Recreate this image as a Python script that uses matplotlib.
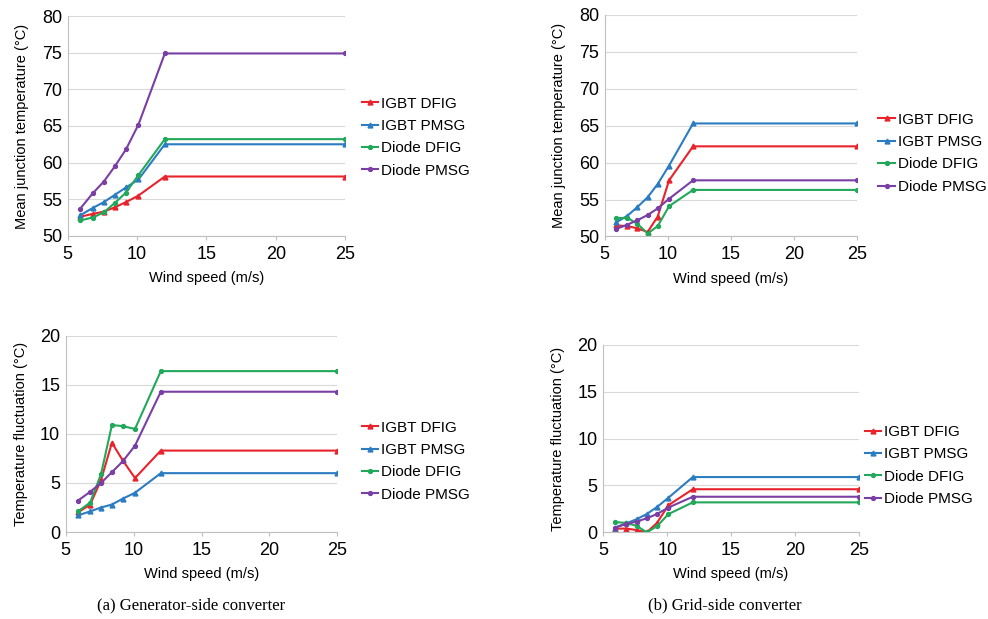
import numpy as np
import matplotlib
matplotlib.use('Agg')
import matplotlib.pyplot as plt

plt.rcParams['font.family'] = ['Liberation Sans', 'DejaVu Sans']

## data
wind = [5.9, 6.8, 7.6, 8.4, 9.2, 10.1, 12, 25]
series_names = ['IGBT DFIG', 'IGBT PMSG', 'Diode DFIG', 'Diode PMSG']

# (a) generator-side, mean junction temperature
gen_mean_igbt_dfig = [52.6, 53.0, 53.3, 53.9, 54.6, 55.5, 58.1, 58.1]
gen_mean_igbt_pmsg = [52.8, 53.8, 54.6, 55.6, 56.6, 57.7, 62.5, 62.5]
gen_mean_diode_dfig = [52.1, 52.5, 53.2, 54.5, 55.9, 58.3, 63.2, 63.2]
gen_mean_diode_pmsg = [53.7, 55.8, 57.4, 59.5, 61.8, 65.2, 74.9, 74.9]

# (b) grid-side, mean junction temperature
grid_mean_igbt_dfig = [51.5, 51.4, 51.1, 50.6, 52.7, 57.6, 62.2, 62.2]
grid_mean_igbt_pmsg = [51.9, 52.8, 54.0, 55.3, 57.1, 59.6, 65.3, 65.3]
grid_mean_diode_dfig = [52.5, 52.5, 51.7, 50.4, 51.4, 54.1, 56.3, 56.3]
grid_mean_diode_pmsg = [51.0, 51.6, 52.2, 52.9, 53.8, 55.1, 57.6, 57.6]

# (a) generator-side, temperature fluctuation
gen_fluc_igbt_dfig = [2.0, 2.8, 5.3, 9.1, 7.3, 5.5, 8.3, 8.3]
gen_fluc_igbt_pmsg = [1.7, 2.1, 2.5, 2.8, 3.4, 4.0, 6.0, 6.0]
gen_fluc_diode_dfig = [2.1, 3.0, 5.9, 10.9, 10.8, 10.5, 16.4, 16.4]
gen_fluc_diode_pmsg = [3.2, 4.1, 5.0, 6.1, 7.2, 8.8, 14.3, 14.3]

# (b) grid-side, temperature fluctuation
grid_fluc_igbt_dfig = [0.4, 0.4, 0.25, 0.0, 1.0, 2.9, 4.6, 4.6]
grid_fluc_igbt_pmsg = [0.5, 0.95, 1.4, 1.95, 2.7, 3.7, 5.9, 5.9]
grid_fluc_diode_dfig = [1.1, 1.0, 0.7, 0.0, 0.65, 1.95, 3.2, 3.2]
grid_fluc_diode_pmsg = [0.5, 0.9, 1.15, 1.5, 1.95, 2.65, 3.8, 3.8]

colors = ['#E8232B', '#2B7CC0', '#22A85A', '#7A3FA4']
markers = ['^', '^', 'o', 'o']
msizes = [3.5, 3.5, 2.8, 2.8]

fig = plt.figure(figsize=(9.88, 6.19), dpi=100)

panels = [
    ([0.0685, 0.619, 0.281, 0.355], [gen_mean_igbt_dfig, gen_mean_igbt_pmsg, gen_mean_diode_dfig, gen_mean_diode_pmsg],
     (50, 80), 'Mean junction temperature (\u00b0C)', (0.366, 0.844)),
    ([0.612, 0.618, 0.2557, 0.358], [grid_mean_igbt_dfig, grid_mean_igbt_pmsg, grid_mean_diode_dfig, grid_mean_diode_pmsg],
     (50, 80), 'Mean junction temperature (\u00b0C)', (0.889, 0.818)),
    ([0.0665, 0.1405, 0.275, 0.317], [gen_fluc_igbt_dfig, gen_fluc_igbt_pmsg, gen_fluc_diode_dfig, gen_fluc_diode_pmsg],
     (0, 20), 'Temperature fluctuation (\u00b0C)', (0.366, 0.3205)),
    ([0.6106, 0.140, 0.2588, 0.3027], [grid_fluc_igbt_dfig, grid_fluc_igbt_pmsg, grid_fluc_diode_dfig, grid_fluc_diode_pmsg],
     (0, 20), 'Temperature fluctuation (\u00b0C)', (0.875, 0.3135)),
]

for rect, ys, ylim, ylabel, legpos in panels:
    ax = fig.add_axes(rect)
    for y, c, m, ms, name in zip(ys, colors, markers, msizes, series_names):
        ax.plot(wind, y, color=c, marker=m, markersize=ms, linewidth=1.5, label=name)
    ax.set_xlim(5, 25)
    ax.set_ylim(*ylim)
    ax.set_xticks(range(5, 26, 5))
    ax.set_yticks(np.arange(ylim[0], ylim[1] + 1, 5))
    ax.yaxis.grid(True, color='#d9d9d9', linewidth=0.8)
    ax.set_axisbelow(True)
    for s in ['top', 'right']:
        ax.spines[s].set_visible(False)
    for s in ['left', 'bottom']:
        ax.spines[s].set_color('#bfbfbf')
    ax.tick_params(axis='y', length=0, labelsize=13, pad=4)
    ax.tick_params(axis='x', length=3, color='#bfbfbf', labelsize=13, pad=4)
    ax.set_xlabel('Wind speed (m/s)', fontsize=10.5, labelpad=6)
    ax.set_ylabel(ylabel, fontsize=10.5, labelpad=9)
    fig.legend(*ax.get_legend_handles_labels(), loc='upper left', bbox_to_anchor=legpos,
               frameon=False, fontsize=11, handlelength=1.1, handletextpad=0.2,
               labelspacing=0.55, borderaxespad=0, borderpad=0)

fig.text(0.193, 0.009, '(a) Generator-side converter', ha='center', va='bottom',
         fontsize=12, family='Liberation Serif')
fig.text(0.734, 0.009, '(b) Grid-side converter', ha='center', va='bottom',
         fontsize=12, family='Liberation Serif')

fig.savefig('out.png', dpi=100)
